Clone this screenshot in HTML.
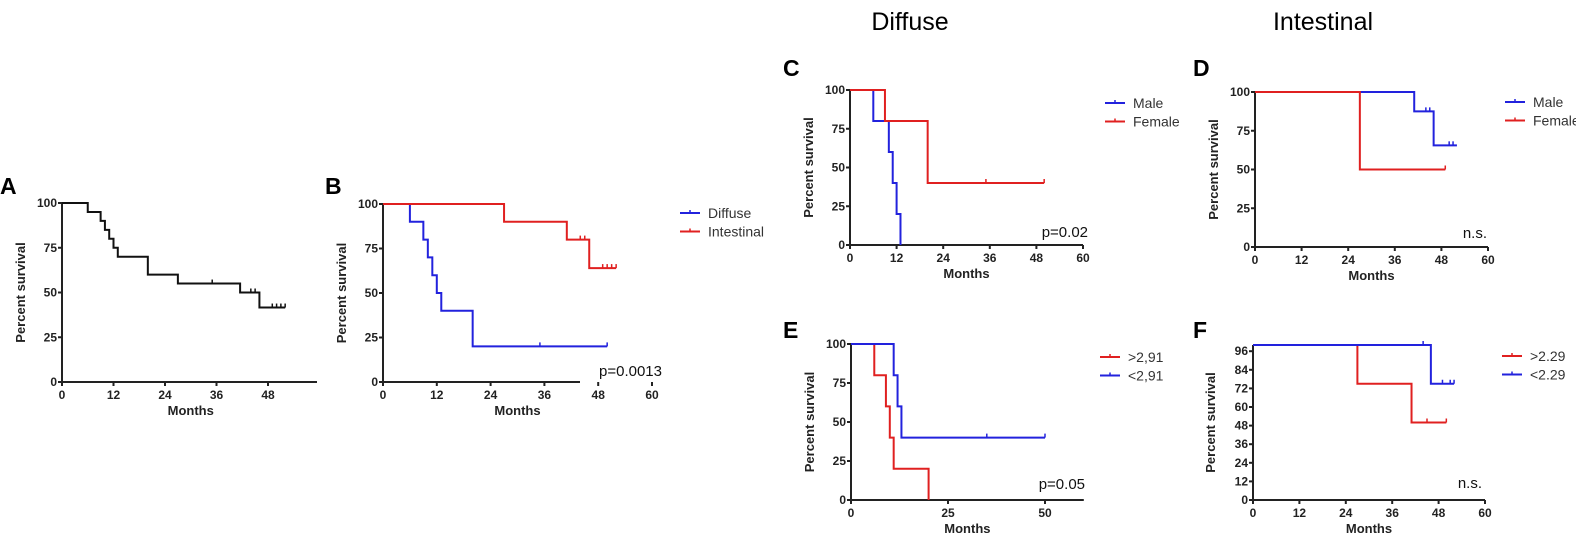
<!DOCTYPE html>
<html><head><meta charset="utf-8"><style>
body{margin:0;background:#fff;}
svg{display:block;font-family:"Liberation Sans",Arial,sans-serif;}
</style></head><body>
<svg id="fig" width="1576" height="539" viewBox="0 0 1576 539">
<text x="910" y="30" font-size="25" text-anchor="middle">Diffuse</text>
<text x="1323" y="30" font-size="25" text-anchor="middle">Intestinal</text>
</svg>
<script>
// ---- Panel A ----
const aTimes=[0,6,9,10,11,12,13,20,27,41.5,46];
const aSurv=[100,95,90,85,80,75,70,60,55,50,41.6];
const aEnd=52;
const aCensor=[[35,55],[44,50],[45,50],[49,41.6],[50,41.6],[51,41.6],[52,41.6]];
// ---- Panel B ----
const bDiffTimes=[0,6,9,10,11,12,13,20];
const bDiffSurv=[100,90,80,70,60,50,40,20];
const bDiffEnd=50;
const bDiffCensor=[[35,20],[50,20]];
const bIntTimes=[0,27,41,46];
const bIntSurv=[100,90,80,64];
const bIntEnd=52;
const bIntCensor=[[44,80],[45,80],[49,64],[50,64],[51,64],[52,64]];
// ---- Panel C ----
const cMaleTimes=[0,6,10,11,12,13];
const cMaleSurv=[100,80,60,40,20,0];
const cMaleEnd=13;
const cFemTimes=[0,9,20];
const cFemSurv=[100,80,40];
const cFemEnd=50;
const cFemCensor=[[35,40],[50,40]];
// ---- Panel D ----
const dMaleTimes=[0,41,46];
const dMaleSurv=[100,87.5,65.6];
const dMaleEnd=52;
const dMaleCensor=[[44,87.5],[45,87.5],[50,65.6],[51,65.6]];
const dFemTimes=[0,27];
const dFemSurv=[100,50];
const dFemEnd=49;
const dFemCensor=[[49,50]];
// ---- Panel E ----
const eHiTimes=[0,6,9,10,11,20];
const eHiSurv=[100,80,60,40,20,0];
const eHiEnd=20;
const eLoTimes=[0,11,12,13];
const eLoSurv=[100,80,60,40];
const eLoEnd=50;
const eLoCensor=[[35,40],[50,40]];
// ---- Panel F ----
const fHiTimes=[0,27,41];
const fHiSurv=[100,75,50];
const fHiEnd=50;
const fHiCensor=[[45,50],[50,50]];
const fLoTimes=[0,46];
const fLoSurv=[100,75];
const fLoEnd=52;
const fLoCensor=[[44,100],[49,75],[51,75],[52,75]];
// ticks
const ticks100=[0,25,50,75,100];
const ticks96=[0,12,24,36,48,60,72,84,96];
const ticksMonths=[0,12,24,36,48,60];
const ticksMonthsA=[0,12,24,36,48];
const ticksMonthsE=[0,25,50];

const NS='http://www.w3.org/2000/svg';
const svg=document.getElementById('fig');
function mk(tag,attrs,parent){const e=document.createElementNS(NS,tag);for(const k in attrs)e.setAttribute(k,attrs[k]);(parent||svg).appendChild(e);return e;}

function panel(p){
  const g=mk('g',{});
  
  
  const sx=v=>p.x0+(v-0)/(p.xmax)*(p.x1-p.x0);
  const sy=v=>p.y0-(v/p.ymax)*(p.y0-p.y1);
  const lab=mk('text',{x:p.lx,y:p.ly,'font-size':23,'font-weight':'bold'},g);lab.textContent=p.id.toUpperCase();
  
  
  const ya=mk('line',{x1:p.x0,y1:sy(0),x2:p.x0,y2:sy(p.ytop||100),stroke:'#222','stroke-width':2},g);
  
  
  const xa=mk('line',{x1:p.x0,y1:p.y0,x2:p.xaEnd||p.x1,y2:p.y0,stroke:'#222','stroke-width':2},g);
  
  
  p.yt.forEach(v=>{
    mk('line',{x1:p.x0-4,y1:sy(v),x2:p.x0,y2:sy(v),stroke:'#222','stroke-width':2},g);
    const t=mk('text',{x:p.x0-5,y:sy(v)+4,'font-size':12,'font-weight':'bold','text-anchor':'end',fill:'#222'},g);t.textContent=v;
    
    
  });
  p.xt.forEach(v=>{
    mk('line',{x1:sx(v),y1:p.y0,x2:sx(v),y2:p.y0+4,stroke:'#222','stroke-width':2},g);
    const t=mk('text',{x:sx(v),y:p.y0+17,'font-size':12,'font-weight':'bold','text-anchor':'middle',fill:'#222'},g);t.textContent=v;
    
    
  });
  const xt=mk('text',{x:(p.x0+p.x1)/2,y:p.y0+33,'font-size':13,'font-weight':'bold','text-anchor':'middle',fill:'#222'},g);xt.textContent='Months';
  
  
  const ycx=p.x0-(p.yt.length>6?38:37), ycy=(p.y0+sy(p.ytop||100))/2;
  const yt=mk('text',{x:ycx,y:ycy,'font-size':13,'font-weight':'bold','text-anchor':'middle',fill:'#222',transform:`rotate(-90 ${ycx} ${ycy})`},g);yt.textContent='Percent survival';
  
  
  p.series.forEach((s,i)=>{
    let d=`M${sx(s.t[0])},${sy(s.s[0])}`;
    for(let k=1;k<s.t.length;k++){d+=` H${sx(s.t[k])} V${sy(s.s[k])}`;}
    d+=` H${sx(s.end)}`;
    const path=mk('path',{d:d,fill:'none',stroke:s.c,'stroke-width':2},g);
    
    
    (s.cens||[]).forEach(c=>{
      const m=mk('line',{x1:sx(c[0]),y1:sy(c[1]),x2:sx(c[0]),y2:sy(c[1])-4,stroke:s.c,'stroke-width':1.5},g);
      
      
    });
    if(p.legX){
      const ly=p.legY+i*18.5;
      mk('line',{x1:p.legX,y1:ly,x2:p.legX+20,y2:ly,stroke:s.c,'stroke-width':2},g);
      mk('line',{x1:p.legX+10,y1:ly,x2:p.legX+10,y2:ly-3,stroke:s.c,'stroke-width':1.5},g);
      const lt=mk('text',{x:p.legX+28,y:ly+5,'font-size':14,fill:'#333'},g);lt.textContent=s.label;
      
      
    }
  });
  if(p.note){
    const nt=mk('text',{x:p.noteX,y:p.noteY,'font-size':15,'text-anchor':'end',fill:'#111'},g);nt.textContent=p.note;
    
    
  }
}

panel({id:'a',lx:0,ly:194,x0:62,x1:62+51.5*5,xmax:60,xaEnd:317,y0:382,y1:203,ymax:100,yt:ticks100,xt:ticksMonthsA,
  series:[{name:'all',t:aTimes,s:aSurv,end:aEnd,cens:aCensor,c:'#111'}]});
panel({id:'b',lx:325,ly:194,x0:383,x1:652,xmax:60,xaEnd:580,y0:382,y1:204,ymax:100,yt:ticks100,xt:ticksMonths,
  legX:680,legY:213,note:'p=0.0013',noteX:662,noteY:376,
  series:[{name:'diffuse',label:'Diffuse',t:bDiffTimes,s:bDiffSurv,end:bDiffEnd,cens:bDiffCensor,c:'#2222dd'},
          {name:'intestinal',label:'Intestinal',t:bIntTimes,s:bIntSurv,end:bIntEnd,cens:bIntCensor,c:'#e02020'}]});
panel({id:'c',lx:783,ly:76,x0:850,x1:1083,xmax:60,y0:245,y1:90,ymax:100,yt:ticks100,xt:ticksMonths,
  legX:1105,legY:103,note:'p=0.02',noteX:1088,noteY:237,
  series:[{name:'male',label:'Male',t:cMaleTimes,s:cMaleSurv,end:cMaleEnd,cens:[],c:'#2222dd'},
          {name:'female',label:'Female',t:cFemTimes,s:cFemSurv,end:cFemEnd,cens:cFemCensor,c:'#e02020'}]});
panel({id:'d',lx:1193,ly:76,x0:1255,x1:1488,xmax:60,y0:247,y1:92,ymax:100,yt:ticks100,xt:ticksMonths,
  legX:1505,legY:102,note:'n.s.',noteX:1487,noteY:238,
  series:[{name:'male',label:'Male',t:dMaleTimes,s:dMaleSurv,end:dMaleEnd,cens:dMaleCensor,c:'#2222dd'},
          {name:'female',label:'Female',t:dFemTimes,s:dFemSurv,end:dFemEnd,cens:dFemCensor,c:'#e02020'}]});
panel({id:'e',lx:783,ly:338,x0:851,x1:851+97*2.4,xmax:60,y0:500,y1:344,ymax:100,yt:ticks100,xt:ticksMonthsE,
  legX:1100,legY:357,note:'p=0.05',noteX:1085,noteY:489,
  series:[{name:'high',label:'>2,91',t:eHiTimes,s:eHiSurv,end:eHiEnd,cens:[],c:'#e02020'},
          {name:'low',label:'<2,91',t:eLoTimes,s:eLoSurv,end:eLoEnd,cens:eLoCensor,c:'#2222dd'}]});
panel({id:'f',lx:1193,ly:338,x0:1253,x1:1485,xmax:60,y0:500,y1:345,ymax:100,ytop:100,yt:ticks96,xt:ticksMonths,
  legX:1502,legY:356,note:'n.s.',noteX:1482,noteY:488,
  series:[{name:'high',label:'>2.29',t:fHiTimes,s:fHiSurv,end:fHiEnd,cens:fHiCensor,c:'#e02020'},
          {name:'low',label:'<2.29',t:fLoTimes,s:fLoSurv,end:fLoEnd,cens:fLoCensor,c:'#2222dd'}]});
</script>
</body></html>
